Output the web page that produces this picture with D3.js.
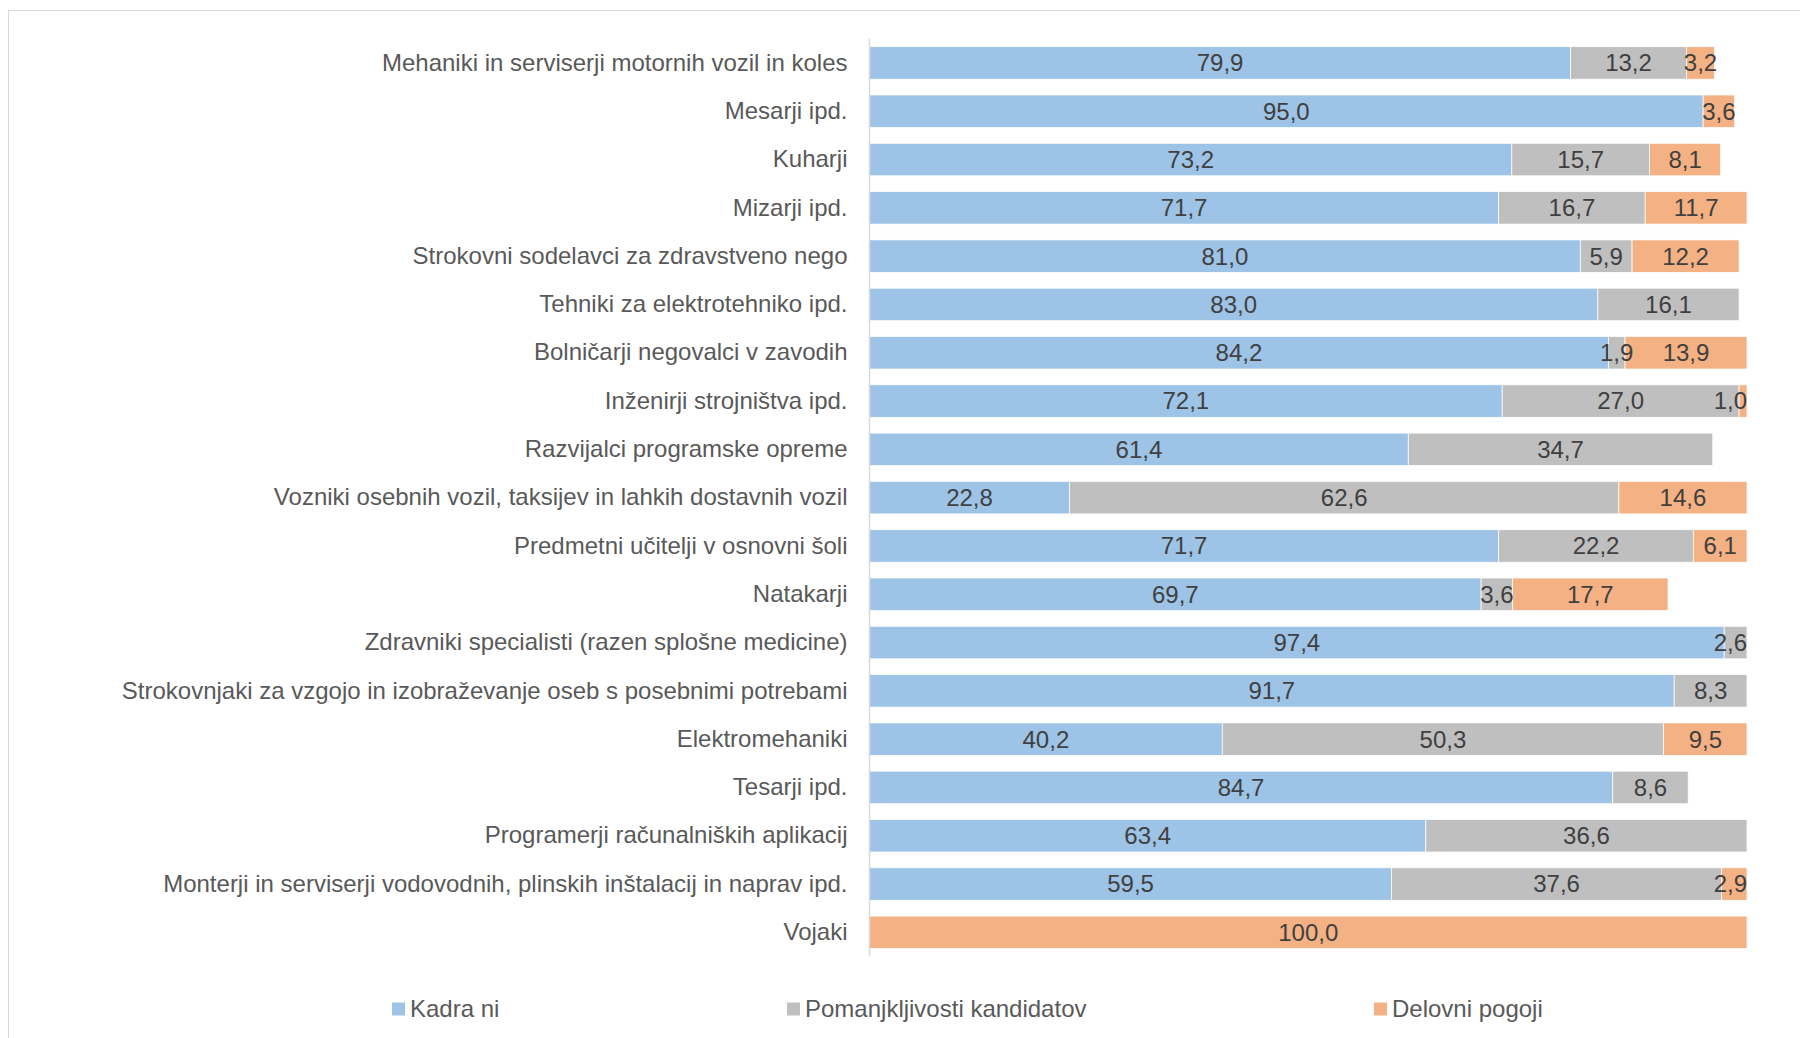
<!DOCTYPE html>
<html>
<head>
<meta charset="utf-8">
<script src="https://cdn.jsdelivr.net/npm/d3@7"></script>
<style>
  body { margin: 0; background: #fff; }
  svg { display: block; font-family: "Liberation Sans", Arial, sans-serif; }
</style>
</head>
<body>
<div id="chart"></div>
<script>
// Categories, top to bottom
const categories = [
  "Mehaniki in serviserji motornih vozil in koles",
  "Mesarji ipd.",
  "Kuharji",
  "Mizarji ipd.",
  "Strokovni sodelavci za zdravstveno nego",
  "Tehniki za elektrotehniko ipd.",
  "Bolničarji negovalci v zavodih",
  "Inženirji strojništva ipd.",
  "Razvijalci programske opreme",
  "Vozniki osebnih vozil, taksijev in lahkih dostavnih vozil",
  "Predmetni učitelji v osnovni šoli",
  "Natakarji",
  "Zdravniki specialisti (razen splošne medicine)",
  "Strokovnjaki za vzgojo in izobraževanje oseb s posebnimi potrebami",
  "Elektromehaniki",
  "Tesarji ipd.",
  "Programerji računalniških aplikacij",
  "Monterji in serviserji vodovodnih, plinskih inštalacij in naprav ipd.",
  "Vojaki"
];

// Series values (null = no segment)
const kadraNi = [79.9, 95.0, 73.2, 71.7, 81.0, 83.0, 84.2, 72.1, 61.4, 22.8, 71.7, 69.7, 97.4, 91.7, 40.2, 84.7, 63.4, 59.5, null];
const pomanjkljivosti = [13.2, null, 15.7, 16.7, 5.9, 16.1, 1.9, 27.0, 34.7, 62.6, 22.2, 3.6, 2.6, 8.3, 50.3, 8.6, 36.6, 37.6, null];
const delovniPogoji = [3.2, 3.6, 8.1, 11.7, 12.2, null, 13.9, 1.0, null, 14.6, 6.1, 17.7, null, null, 9.5, null, null, 2.9, 100.0];

const seriesNames = ["Kadra ni", "Pomanjkljivosti kandidatov", "Delovni pogoji"];
const seriesColors = ["#9dc3e6", "#bfbfbf", "#f4b183"];

const width = 1800;
const height = 1038;

const svg = d3.select("#chart")
  .append("svg")
  .attr("width", width)
  .attr("height", height);

// chart area border
svg.append("rect")
  .attr("x", 8.5)
  .attr("y", 10.5)
  .attr("width", width)
  .attr("height", height)
  .attr("fill", "none")
  .attr("stroke", "#d9d9d9");

const x = d3.scaleLinear().domain([0, 100]).range([869.5, 1747]);
const y = d3.scaleBand()
  .domain(categories)
  .range([38.8, 956.5])
  .paddingInner(0.327)
  .paddingOuter(0.1635);

// build stacked rows
const rows = categories.map((c, i) => ({
  name: c,
  vals: [kadraNi[i], pomanjkljivosti[i], delovniPogoji[i]]
}));

const segments = [];
rows.forEach((r) => {
  let acc = 0;
  r.vals.forEach((v, k) => {
    if (v == null) return;
    segments.push({ name: r.name, k: k, v: v, x0: acc, x1: acc + v });
    acc += v;
  });
});

svg.append("g")
  .selectAll("rect")
  .data(segments)
  .enter()
  .append("rect")
  .attr("x", (d) => x(d.x0))
  .attr("y", (d) => y(d.name))
  .attr("width", (d) => Math.min(x(d.x1), x(100)) - x(d.x0))
  .attr("height", y.bandwidth())
  .attr("fill", (d) => seriesColors[d.k])
  .attr("stroke", "#fff")
  .attr("stroke-width", 0.75);

// axis line
const axis = d3.axisLeft(y).tickSize(0).tickPadding(22);
const ag = svg.append("g")
  .attr("transform", `translate(${x(0)},0)`)
  .call(axis);
ag.select(".domain")
  .attr("stroke", "#d9d9d9")
  .attr("stroke-width", 1.5)
  .attr("d", `M0,${y.range()[0]}V${y.range()[1]}`);
ag.selectAll("text")
  .attr("font-size", "24px")
  .attr("font-family", "'Liberation Sans', Arial, sans-serif")
  .attr("fill", "#595959");

// data labels
const fmt = (v) => v.toFixed(1).replace(".", ",");
svg.append("g")
  .selectAll("text")
  .data(segments)
  .enter()
  .append("text")
  .attr("y", (d) => y(d.name) + y.bandwidth() / 2)
  .attr("dy", "0.35em")
  .attr("text-anchor", "middle")
  .attr("font-size", "24px")
  .attr("fill", "#404040")
  .text((d) => fmt(d.v))
  .each(function (d) {
    const w = this.getComputedTextLength();
    let cx = (x(d.x0) + Math.min(x(d.x1), x(100))) / 2;
    // keep label inside plot area
    if (cx + w / 2 > x(100)) cx = x(100) - w / 2;
    d3.select(this).attr("x", cx);
  });

// legend
const legendX = [392, 787, 1374];
const legend = svg.append("g")
  .selectAll("g")
  .data(seriesNames)
  .enter()
  .append("g")
  .attr("transform", (d, i) => `translate(${legendX[i]},1009)`);

legend.append("rect")
  .attr("x", 0)
  .attr("y", -6.5)
  .attr("width", 13)
  .attr("height", 13)
  .attr("fill", (d, i) => seriesColors[i]);

legend.append("text")
  .attr("x", 18)
  .attr("dy", "0.35em")
  .attr("font-size", "24px")
  .attr("fill", "#595959")
  .text((d) => d);
</script>
</body>
</html>
